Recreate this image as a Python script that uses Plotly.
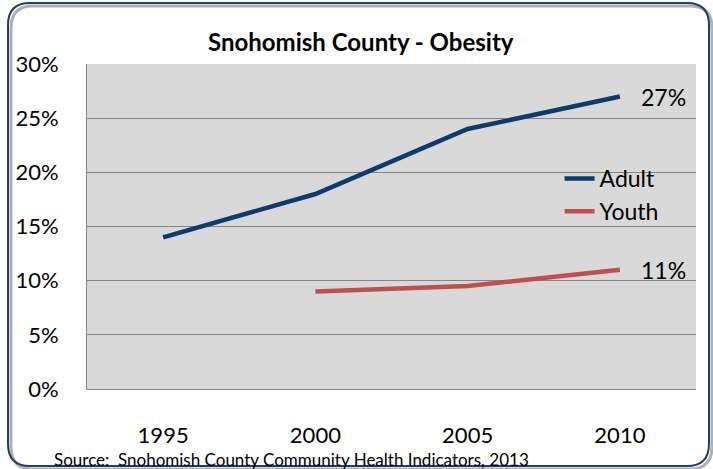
import plotly.graph_objects as go

# Data
years = ['1995', '2000', '2005', '2010']
adult = [0.14, 0.18, 0.24, 0.27]
youth = [None, 0.09, 0.095, 0.11]

FONT = 'Lato'
W, H = 713, 469
ML, MR, MT, MB = 87, 17, 64, 80
PW, PH = W - ML - MR, H - MT - MB


# pixel -> paper coords
def px(x):
    return (x - ML) / PW


def py(y):
    return (H - MB - y) / PH


# Rounded rectangle path in paper coords
def rounded_rect(x0, y0, x1, y1, r):
    rx, ry = r / PW, r / PH
    a, b, c, d = px(x0), py(y1), px(x1), py(y0)
    return (f"M {a + rx},{b} L {c - rx},{b} Q {c},{b} {c},{b + ry} "
            f"L {c},{d - ry} Q {c},{d} {c - rx},{d} "
            f"L {a + rx},{d} Q {a},{d} {a},{d - ry} "
            f"L {a},{b + ry} Q {a},{b} {a + rx},{b} Z")


fig = go.Figure()

fig.add_trace(go.Scatter(
    x=years, y=adult, name='Adult', mode='lines',
    line=dict(color='#0E3A6C', width=4.5)
))
fig.add_trace(go.Scatter(
    x=years, y=youth, name='Youth', mode='lines',
    line=dict(color='#C0504D', width=4.5)
))

# end-point labels (x given as category index)
for vals in [adult, youth]:
    fig.add_annotation(
        x=len(years) - 1, y=vals[-1], text=f"{round(vals[-1] * 100)}%",
        showarrow=False, xanchor='left', yanchor='middle', xshift=19,
        font=dict(family=FONT, size=23, color='#000000')
    )

# title and source
fig.add_annotation(
    x=px(361), y=py(42), xref='paper', yref='paper',
    xanchor='center', yanchor='middle',
    text='<b>Snohomish County - Obesity</b>', showarrow=False,
    font=dict(family=FONT, size=24, color='#000000')
)
fig.add_annotation(
    x=px(52), y=py(459), xref='paper', yref='paper',
    xanchor='left', yanchor='middle',
    text='Source:  Snohomish County Community Health Indicators, 2013',
    showarrow=False, font=dict(family=FONT, size=17, color='#000000')
)

# shadow + rounded border
fig.add_shape(type='path', xref='paper', yref='paper', layer='below',
              path=rounded_rect(11, 6, 712, 469, 22),
              line=dict(color='#B0B0B0', width=3))
fig.add_shape(type='path', xref='paper', yref='paper', layer='below',
              path=rounded_rect(8, 3, 709, 466, 22),
              line=dict(color='#1F3F6B', width=2))

fig.update_layout(
    width=W, height=H,
    margin=dict(l=ML, r=MR, t=MT, b=MB),
    paper_bgcolor='white',
    plot_bgcolor='#D9D9D9',
    font=dict(family=FONT, size=22, color='#000000'),
    showlegend=True,
    legend=dict(
        x=0.776, y=0.714, xanchor='left', yanchor='top',
        bgcolor='rgba(0,0,0,0)', font=dict(family=FONT, size=23),
        tracegroupgap=0
    ),
    xaxis=dict(
        type='category', range=[-0.5, 3.5],
        showgrid=False, zeroline=False,
        showline=True, linecolor='#868686', linewidth=1,
        ticks='', ticklabelstandoff=27,
        tickfont=dict(family=FONT, size=22)
    ),
    yaxis=dict(
        range=[0, 0.30], dtick=0.05, tickformat='.0%',
        showgrid=True, gridcolor='#868686', gridwidth=1,
        zeroline=False, showline=True, linecolor='#868686', linewidth=1,
        ticks='', ticklabelstandoff=23,
        tickfont=dict(family=FONT, size=22)
    )
)

# drop the default body margin so the figure fills the window
fig.write_html("out.html", config={'displayModeBar': False},
               post_script="document.body.style.margin='0px';")
